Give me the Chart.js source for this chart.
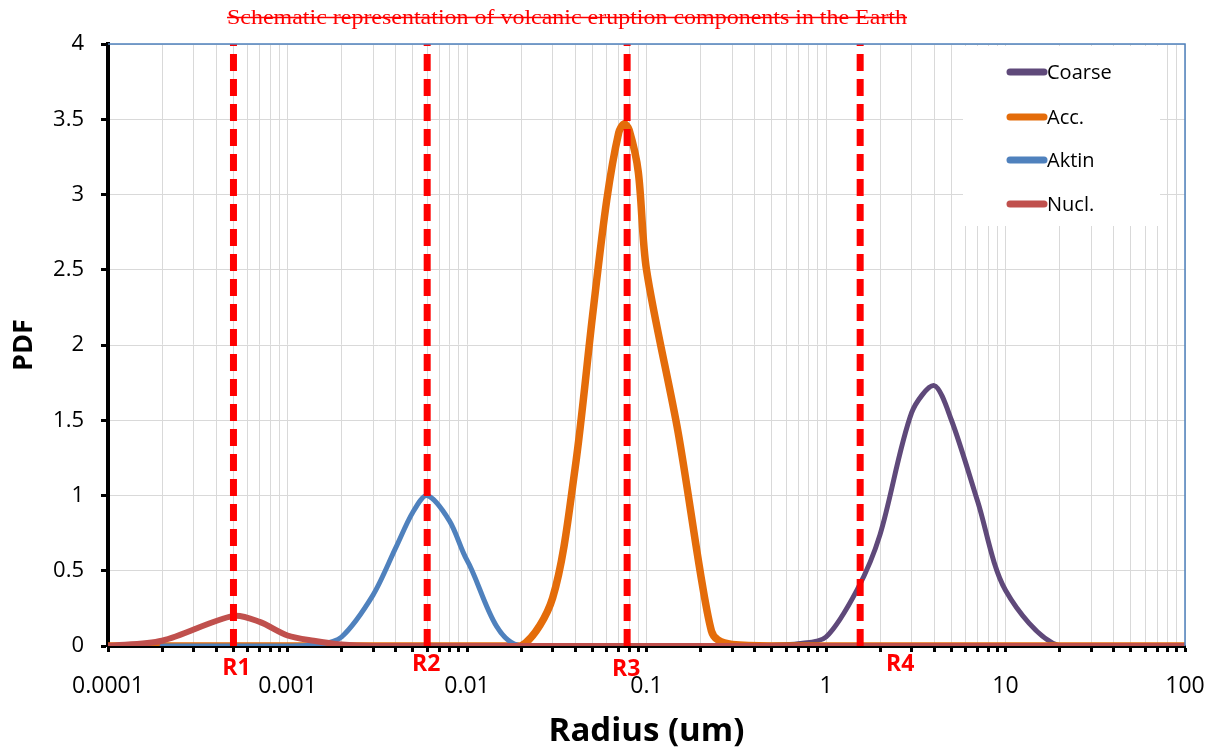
<!DOCTYPE html>
<html>
<head>
<meta charset="utf-8">
<script src="https://cdn.jsdelivr.net/npm/chart.js@4.4.1/dist/chart.umd.min.js"></script>
<style>
    html, body { margin: 0; padding: 0; background: #fff; }
    #wrap { width: 1218px; height: 754px; }
</style>
</head>
<body>
<div id="wrap"><canvas id="chart" width="1218" height="754"></canvas></div>
<script>
// ===== data =====
const coarseX = [0.0001, 0.1, 0.3, 0.5, 0.7, 1, 1.5, 2, 3, 4, 5, 7, 10, 20, 100];
const coarseY = [0, 0, 0, 0.005, 0.015, 0.06, 0.38, 0.74, 1.55, 1.73, 1.5, 0.96, 0.37, 0, 0];

const accX = [0.0001, 0.01, 0.02, 0.03, 0.04, 0.05, 0.06, 0.07, 0.075, 0.08, 0.09, 0.1, 0.15, 0.2, 0.23, 0.25, 0.3, 0.5, 100];
const accY = [0, 0, 0, 0.32, 1.18, 2.19, 2.96, 3.41, 3.47, 3.43, 3.15, 2.5, 1.42, 0.48, 0.1, 0.04, 0.01, 0, 0];

const aktinX = [0.0002, 0.001, 0.0015, 0.002, 0.003, 0.004, 0.005, 0.006, 0.008, 0.01, 0.02, 100];
const aktinY = [0, 0, 0.01, 0.06, 0.34, 0.65, 0.89, 1.0, 0.83, 0.57, 0, 0];

const nuclX = [0.0001, 0.0002, 0.0005, 0.0007, 0.001, 0.0014, 0.002, 0.003, 0.01, 0.1, 1, 10, 100];
const nuclY = [0, 0.035, 0.2, 0.16, 0.07, 0.035, 0.01, 0, 0, 0, 0, 0, 0];

const seriesNames = ['Coarse', 'Acc.', 'Aktin', 'Nucl.'];
const seriesColors = ['#5F497A', '#E46C0A', '#4F81BD', '#C0504D'];

// vertical marker radii
const rValues = [0.0005, 0.006, 0.078, 1.55];
const rNames = ['R1', 'R2', 'R3', 'R4'];

const xMajorTicks = [0.0001, 0.001, 0.01, 0.1, 1, 10, 100];
const xTickLabels = ['0.0001', '0.001', '0.01', '0.1', '1', '10', '100'];
const yTicks = [0, 0.5, 1, 1.5, 2, 2.5, 3, 3.5, 4];

const TITLE = 'Schematic representation of volcanic eruption components in the Earth';
const FONT = '"Open Sans", "Liberation Sans", sans-serif';

// ===== helpers =====
function zip(xs, ys) {
    return xs.map((x, i) => ({ x: x, y: ys[i] }));
}

// minor ticks 1..9 in each decade
const xTickValues = [];
xMajorTicks.forEach((m, i) => {
    if (i === xMajorTicks.length - 1) {
        xTickValues.push(m);
        return;
    }
    for (let k = 1; k <= 9; k++) xTickValues.push(m * k);
});

function majorIndex(v) {
    return xMajorTicks.findIndex(m => Math.abs(m - v) / m < 1e-9);
}

const curveData = [zip(coarseX, coarseY), zip(accX, accY), zip(aktinX, aktinY), zip(nuclX, nuclY)];
const curveWidths = [5, 7.5, 5, 6];

const datasets = curveData.map((d, i) => ({
    label: seriesNames[i],
    data: d,
    borderColor: seriesColors[i],
    backgroundColor: seriesColors[i],
    borderWidth: curveWidths[i],
    pointRadius: 0,
    showLine: true,
    tension: 0.3,
    borderCapStyle: 'round',
    borderJoinStyle: 'round',
    order: 4 - i
}));

rValues.forEach((r, i) => {
    datasets.push({
        label: rNames[i],
        data: [{ x: r, y: 0 }, { x: r, y: 4 }],
        borderColor: '#FF0000',
        borderWidth: 7,
        borderDash: [17, 8],
        pointRadius: 0,
        showLine: true,
        tension: 0,
        order: 0
    });
});

// ===== extra drawing: title, frame, legend, R labels =====
const decorPlugin = {
    id: 'decor',
    afterDraw(chart) {
        const { ctx, chartArea: a, scales: { x } } = chart;
        ctx.save();

        // blue frame (top + right)
        ctx.strokeStyle = '#4F81BD';
        ctx.lineWidth = 1.5;
        ctx.beginPath();
        ctx.moveTo(a.left, a.top);
        ctx.lineTo(a.right, a.top);
        ctx.lineTo(a.right, a.bottom);
        ctx.stroke();

        // legend
        ctx.fillStyle = '#fff';
        ctx.fillRect(963, 46, 197, 180);
        const rowY = [72, 117, 160, 204];
        ctx.font = '20px ' + FONT;
        ctx.textBaseline = 'middle';
        ctx.textAlign = 'left';
        for (let i = 0; i < 4; i++) {
            ctx.strokeStyle = seriesColors[i];
            ctx.lineWidth = 7;
            ctx.lineCap = 'round';
            ctx.beginPath();
            ctx.moveTo(1010, rowY[i]);
            ctx.lineTo(1044, rowY[i]);
            ctx.stroke();
            ctx.fillStyle = '#000';
            ctx.fillText(seriesNames[i], 1047, rowY[i] + 1);
        }

        // R labels under the axis
        const rDx = [3, -1, -1, 40];
        const rY = [668, 664, 669, 664];
        ctx.font = 'bold 23px ' + FONT;
        ctx.fillStyle = '#FF0000';
        ctx.textAlign = 'center';
        rValues.forEach((r, i) => {
            ctx.fillText(rNames[i], x.getPixelForValue(r) + rDx[i], rY[i]);
        });

        // struck-through red title
        ctx.font = '22px "Liberation Serif", "Times New Roman", serif';
        const w = ctx.measureText(TITLE).width;
        const targetW = 680;
        ctx.translate(567, 0);
        ctx.scale(targetW / w, 1);
        ctx.textAlign = 'center';
        ctx.textBaseline = 'alphabetic';
        ctx.fillStyle = '#FF0000';
        ctx.fillText(TITLE, 0, 24);
        ctx.strokeStyle = '#FF0000';
        ctx.lineWidth = 1.5;
        ctx.lineCap = 'butt';
        ctx.beginPath();
        ctx.moveTo(-w / 2, 17.5);
        ctx.lineTo(w / 2, 17.5);
        ctx.stroke();

        ctx.restore();
    }
};

new Chart(document.getElementById('chart'), {
    type: 'scatter',
    data: { datasets: datasets },
    options: {
        responsive: false,
        animation: false,
        devicePixelRatio: 1,
        layout: { padding: { top: 44, right: 33, left: 0, bottom: 0 } },
        plugins: {
            legend: { display: false },
            title: { display: false },
            tooltip: { enabled: false }
        },
        scales: {
            x: {
                type: 'logarithmic',
                min: 0.0001,
                max: 100,
                afterFit(s) {
                    s.height = 108;
                    s.paddingLeft = 0;
                    s.paddingRight = 0;
                },
                afterBuildTicks(s) { s.ticks = xTickValues.map(v => ({ value: v })); },
                ticks: {
                    autoSkip: false,
                    maxRotation: 0,
                    minRotation: 0,
                    color: '#000',
                    padding: 21,
                    font: { family: FONT, size: 23 },
                    callback(v) {
                        const i = majorIndex(v);
                        return i >= 0 ? xTickLabels[i] : '';
                    }
                },
                grid: { color: '#d9d9d9', lineWidth: 1, tickColor: '#000', tickWidth: 3, tickLength: 6 },
                border: { color: '#000', width: 3 },
                title: {
                    display: true,
                    text: 'Radius (um)',
                    color: '#000',
                    font: { family: FONT, size: 33, weight: 'bold' },
                    padding: { top: 0, bottom: 3 }
                }
            },
            y: {
                min: 0,
                max: 4,
                afterFit(s) {
                    s.width = 108;
                    s.paddingTop = 0;
                    s.paddingBottom = 0;
                },
                afterBuildTicks(s) { s.ticks = yTicks.map(v => ({ value: v })); },
                ticks: {
                    color: '#000',
                    padding: 17,
                    font: { family: FONT, size: 22 },
                    callback(v) { return String(v); }
                },
                grid: { color: '#d9d9d9', lineWidth: 1, tickColor: '#000', tickWidth: 3, tickLength: 7 },
                border: { color: '#000', width: 4 },
                title: {
                    display: true,
                    text: 'PDF',
                    color: '#000',
                    font: { family: FONT, size: 27, weight: 'bold' },
                    padding: { top: 8, bottom: 0 }
                }
            }
        }
    },
    plugins: [decorPlugin]
});
</script>
</body>
</html>
